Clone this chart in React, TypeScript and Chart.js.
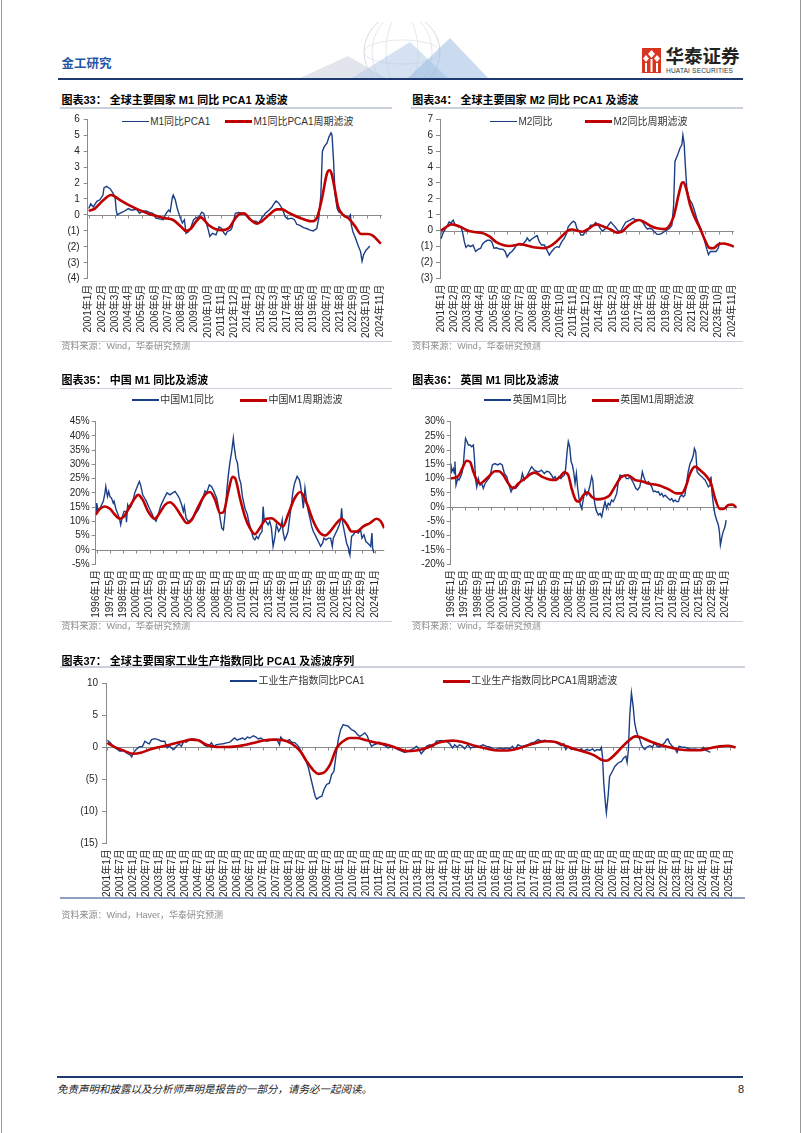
import React, { useEffect, useRef } from 'react';
import { Chart, registerables } from 'chart.js';

Chart.register(...registerables);

// ---------------- tick labels ----------------
const labels13: string[] = ['2001年1月', '2002年2月', '2003年3月', '2004年4月', '2005年5月', '2006年6月', '2007年7月', '2008年8月', '2009年9月', '2010年10月', '2011年11月', '2012年12月', '2014年1月', '2015年2月', '2016年3月', '2017年4月', '2018年5月', '2019年6月', '2020年7月', '2021年8月', '2022年9月', '2023年10月', '2024年11月'];
const labels16: string[] = ['1996年1月', '1997年5月', '1998年9月', '2000年1月', '2001年5月', '2002年9月', '2004年1月', '2005年5月', '2006年9月', '2008年1月', '2009年5月', '2010年9月', '2012年1月', '2013年5月', '2014年9月', '2016年1月', '2017年5月', '2018年9月', '2020年1月', '2021年5月', '2022年9月', '2024年1月'];
const labels6: string[] = ['2001年1月', '2001年7月', '2002年1月', '2002年7月', '2003年1月', '2003年7月', '2004年1月', '2004年7月', '2005年1月', '2005年7月', '2006年1月', '2006年7月', '2007年1月', '2007年7月', '2008年1月', '2008年7月', '2009年1月', '2009年7月', '2010年1月', '2010年7月', '2011年1月', '2011年7月', '2012年1月', '2012年7月', '2013年1月', '2013年7月', '2014年1月', '2014年7月', '2015年1月', '2015年7月', '2016年1月', '2016年7月', '2017年1月', '2017年7月', '2018年1月', '2018年7月', '2019年1月', '2019年7月', '2020年1月', '2020年7月', '2021年1月', '2021年7月', '2022年1月', '2022年7月', '2023年1月', '2023年7月', '2024年1月', '2024年7月', '2025年1月'];

// ---------------- series (x = months since first label, y = value) ----------------
const m1PcaRaw: number[][] = [[0,0.4],[2,0.7],[4.5,0.5],[8,0.85],[11,0.95],[14,1.25],[15,1.7],[17.5,1.8],[21,1.65],[24,1.35],[26,1.05],[27,0.3],[28,0.0],[30.5,0.1],[34,0.2],[39,0.4],[42,0.3],[47,0.35],[50,0.1],[53,0.25],[56.5,0.25],[60,0.15],[63,0.1],[66,-0.2],[69.5,-0.25],[73,-0.3],[76,0.1],[78.5,0.3],[80,0.2],[82,1.05],[83,1.25],[85,0.95],[87,0.4],[90,-0.2],[92,-0.5],[94,-0.3],[95.5,-1.15],[98,-1.05],[100,-0.85],[103,-0.3],[105,-0.2],[108.5,-0.1],[111,0.17],[113,0.1],[115,-0.4],[117.5,-0.95],[119,-1.35],[121.5,-1.15],[125,-1.25],[128,-0.75],[130.5,-0.85],[133,-1.15],[134.5,-1.25],[136,-1.05],[139.5,-0.95],[141,-0.75],[144,0.1],[147.5,0.15],[151,0.1],[154,0.0],[157,-0.2],[160.5,-0.4],[164,-0.4],[167,-0.5],[170,-0.2],[173.5,0.1],[177,0.3],[180,0.5],[182.5,0.75],[184,0.87],[186.5,0.75],[190,0.4],[193,-0.1],[195.5,-0.25],[199.5,-0.2],[202,-0.3],[204.5,-0.6],[207.5,-0.65],[211,-0.8],[214,-0.85],[217.5,-0.95],[220.5,-1.0],[224,-0.85],[226,-0.2],[228,1.25],[229.5,4.0],[231.5,4.3],[234,4.5],[236,4.9],[238,5.15],[239,5.0],[240.5,3.35],[242,1.25],[244,0.4],[245.5,0.2],[248,0.1],[251.5,-0.1],[255,-0.2],[257,0.0],[258,-0.65],[259.5,-1.05],[262,-1.45],[264.5,-1.9],[267,-2.3],[268.5,-2.9],[270,-2.5],[272.5,-2.2],[274,-2.1],[276,-1.95]];
const m1PcaFilt: number[][] = [[0,0.25],[6,0.4],[14,0.9],[22,1.25],[30.5,0.95],[40,0.6],[50,0.3],[60,0.05],[66,-0.05],[74,-0.2],[82.5,-0.3],[91,-0.75],[95.5,-1.0],[100.5,-0.85],[105,-0.45],[110,-0.15],[118,-0.65],[125,-0.9],[131,-0.95],[138,-0.8],[143,-0.3],[148,0.05],[152.5,0.1],[159,-0.3],[165.5,-0.55],[170,-0.4],[177,0],[185,0.35],[190,0.35],[196,0.15],[204,-0.1],[212.5,-0.3],[219,-0.4],[224,-0.2],[229,1.0],[234,2.6],[236.5,2.8],[238.5,2.6],[242,1.5],[245,0.5],[250,0],[255,-0.2],[261.5,-0.7],[267.5,-1.2],[274,-1.2],[279,-1.3],[287,-1.8]];

const m2Raw: number[][] = [[0,-0.5],[2,-0.15],[5.5,0.25],[8,0.55],[10,0.5],[12,0.67],[14,0.35],[17,0.25],[19.5,0.25],[21,-0.05],[23,-0.7],[24.5,-1.05],[26.7,-0.9],[29,-1.0],[31.5,-0.9],[34,-1.3],[36.5,-1.17],[39,-1.1],[40.7,-0.85],[43,-0.7],[45.6,-0.6],[48,-0.6],[50,-0.7],[52,-1.1],[54.5,-1.07],[57.7,-1.15],[61,-1.17],[63,-1.3],[65,-1.65],[67.4,-1.42],[69.7,-1.3],[72.3,-1.1],[74,-0.9],[76,-0.85],[79,-0.9],[81,-0.8],[83.7,-0.6],[84.7,-0.45],[87,-0.65],[89.6,-0.5],[92,-0.4],[94.5,-0.3],[96.7,-0.7],[99,-0.9],[101.6,-0.9],[104,-1.2],[106.5,-1.53],[108.8,-1.3],[111.4,-1.1],[114,-1.0],[116,-1.05],[118.6,-0.7],[121,-0.5],[123.5,-0.17],[125,0.25],[127.7,0.45],[130,0.6],[132,0.5],[133.6,0.15],[136,-0.05],[137.5,-0.27],[139.7,-0.27],[142,-0.07],[144.6,0.05],[147,0.35],[150,0.35],[152,0.52],[154,0.4],[157,0.1],[159,-0.02],[162,0.15],[164,0.3],[166.8,0.55],[169,0.4],[171.6,0.2],[174,0.0],[176.5,-0.05],[179,0.25],[181.4,0.52],[183.7,0.6],[186,0.67],[189,0.78],[191,0.67],[193.5,0.67],[196,0.67],[198.7,0.5],[201,0.25],[203,0.1],[205,0.15],[207.5,0.1],[209.8,-0.06],[212.4,-0.23],[215,-0.23],[217,-0.17],[219.5,-0.06],[222,0.04],[224.8,0.15],[227,0.35],[228.7,1.6],[230,4.35],[232.6,4.75],[235,5.2],[236.8,5.4],[237.8,6.0],[239,5.5],[240.4,3.9],[241.7,2.65],[244,2.0],[247,1.7],[249,1.3],[251.4,0.78],[254,0.35],[256.4,-0.06],[258.6,-0.5],[260.6,-1.0],[263,-1.5],[265,-1.3],[267.7,-1.3],[270.4,-1.3],[272.6,-1.1],[274,-0.7]];
const m2Filt: number[][] = [[0,0],[5.5,0.25],[10,0.4],[15,0.35],[22,0.15],[26.7,0],[33,-0.08],[41,-0.15],[48,-0.37],[54,-0.7],[61,-0.9],[67,-0.96],[74,-0.9],[77,-0.84],[85,-0.94],[93,-1.05],[101.6,-1.1],[106.5,-1.0],[113,-0.7],[119.5,-0.3],[124.5,0],[129,0.08],[134,0],[139,-0.06],[144,0.08],[150.5,0.35],[153.7,0.4],[160,0.25],[166.8,0.08],[173.3,-0.12],[178,-0.06],[183,0.25],[189.6,0.56],[194.5,0.67],[199.4,0.56],[206,0.3],[212.4,0.15],[219,0.1],[223.8,0.25],[228.7,0.88],[233.6,2.25],[236.8,3.0],[238.4,3.05],[241,2.65],[245,1.6],[249.8,0.78],[254.7,0.15],[259.6,-0.6],[263.8,-1.07],[267.7,-1.1],[272.6,-0.86],[277.5,-0.8],[282.4,-0.86],[288,-1.0]];

const cnM1Raw: number[][] = [[-0.8,13.5],[0,16.4],[1.5,14],[4,14.6],[6,15.8],[8,17],[10,20],[11,22.2],[13,18.7],[14.5,20.5],[16,18.7],[18,18.1],[20,16.4],[21,17],[23,14.6],[25,12.9],[27.4,11.1],[29,8.8],[31,11.7],[33,13.5],[35,13.5],[36,9.7],[37.4,15.8],[39.4,14.6],[41.4,15.2],[43.5,17],[46,20],[49,22.2],[51.5,24],[53,22.8],[55.5,19.3],[58,18.1],[60,17],[63.6,14.6],[66.4,12.9],[69,11.1],[71.6,10],[74.4,12.3],[77,15.2],[79.7,17],[82.5,18.7],[85,20],[88.5,19.3],[91.8,20],[94.6,20.5],[97.4,19.3],[99.8,18.1],[102.6,15.8],[104.6,13.5],[105.8,15.2],[108,11.1],[110.7,10],[113.5,10.5],[116.7,11.7],[120,12.9],[122.7,14],[125.5,15.8],[128.8,18.7],[130.8,20.7],[132.8,20],[136,22.8],[138.8,22.2],[141.6,20.5],[144.9,18.1],[146.9,15.2],[149,11.1],[151,7.6],[153,7],[155,12.3],[157,20.5],[159,26.3],[161,31],[163,34.5],[165,39.2],[166,36.3],[168,32.2],[170,30.4],[172,25.2],[174,23.4],[176,18.7],[179,14.6],[182,12.3],[184,9.4],[187,6.4],[189,4.1],[191,3.5],[193,4.7],[195,3.9],[197,5.3],[199.6,6.4],[201,15.2],[202.4,10],[204.4,10],[207,8.8],[209,10],[211,7.6],[213,1.2],[215,4.1],[217,8.8],[219.7,6.4],[222,7.6],[224,10.5],[225,6.4],[227,3.5],[229,4.7],[231,6.4],[233,11.1],[235,15.8],[237,20.5],[239,23.4],[242,25.8],[244.7,24.6],[246,22.8],[248,18.7],[249.5,14.6],[251.5,21.7],[253.5,17],[255.5,13.5],[257.5,11.1],[259.6,8.2],[261.6,6.4],[263.6,5.3],[265.6,4.1],[267.6,2.9],[270.4,1.2],[272.8,2.3],[274.4,4.1],[276.9,3.5],[279.7,4.1],[282.5,4.1],[284.5,1.2],[285.7,4.1],[287.7,5.3],[290.5,7],[293,8.8],[294.6,10.5],[295.8,14.6],[297,9.4],[299.8,5.3],[301.8,2.3],[303.8,0.8],[305.8,-1.8],[307.8,4.7],[309.9,5.3],[312.7,6.4],[315.9,5.9],[318.7,7],[320.3,4.1],[322.7,5.3],[325,2.9],[328,2.1],[330.8,1.2],[332.4,5.9],[333.2,0.6],[334.8,-1.2]];
const cnM1Filt: number[][] = [[-1.2,12.3],[4,14.4],[10,15.2],[16,14.4],[22,12.3],[28,10.9],[33,11.7],[40,15.2],[46,18.1],[50,19.3],[55.5,17.6],[62,13.5],[70,10.9],[76,12.9],[82.5,15.8],[88.5,16.7],[94.6,15.2],[102.6,11.7],[108.7,9.4],[114.7,10.5],[122.7,15.2],[130.8,19.3],[136.8,20.3],[142.9,17.6],[149,12.9],[153,13.2],[159,20.5],[164,25.6],[167,25.2],[173,18.1],[179,11.7],[185,7.6],[191,5.5],[197,7.6],[205,10.9],[211,11.1],[219,9.4],[225,8.2],[231,12.3],[239,18.1],[246,20.3],[253.5,16.4],[261.6,10],[269.6,5.9],[275.6,5],[281.7,6.4],[289.7,9.4],[295.8,10.9],[301.8,9],[307.8,6.4],[313.9,6.4],[322,8.2],[330,9.4],[338,10.9],[343,10],[347.3,7.6]];

const ukM1Raw: number[][] = [[-1,15.3],[0,12.4],[2,13.6],[3.3,11.8],[4,16],[5.3,7.7],[7.4,10],[9,9.5],[11,10.7],[13,12.4],[14.3,14.8],[15.5,19.4],[17,24.1],[18.8,23],[20.4,21.8],[22.5,21.8],[24.5,21.2],[26.6,21.8],[27.8,17.7],[29.4,9.5],[30.7,7.1],[32.7,10],[34.8,7.7],[36.8,8.3],[38.8,6.6],[40.9,8.3],[44,9.5],[47,10.7],[49.9,14.8],[53,15.3],[56.4,14.8],[59.3,15.3],[62,14.8],[64.6,11.8],[67.5,10.7],[70.3,7.7],[72.8,5.4],[75.6,7.1],[78.5,6.6],[81.8,7.7],[85,9.5],[86.7,11.8],[89,9.5],[92,10.7],[94.8,12.4],[98,14.2],[101.4,13],[104,12.6],[107,12.4],[110,13],[113.6,11.8],[116.5,12.6],[119.4,12.4],[122.6,11.2],[124.7,10],[126.7,10.7],[128.8,9.5],[131.6,10.7],[134,10],[135.7,10.7],[138.2,11.2],[139.8,13.6],[141.5,19.4],[143,23],[144.7,21.2],[146.4,16],[148,14.8],[149.6,12.4],[151.3,8.3],[152.9,11.8],[154.5,6.6],[156.2,3],[157.8,0.7],[159.4,-0.5],[161.5,3],[163.5,6],[165.6,4.2],[167.6,5.4],[169.7,7.7],[171.7,10.7],[173,9.5],[174.6,3],[175.8,0.7],[177.8,-1.6],[179.9,-2.8],[182,-2.2],[184,-3.4],[186,-0.5],[188,1.9],[190,-0.5],[192,1.3],[194,0.7],[196,2.5],[198,1.9],[200,3],[202.4,4.8],[204.4,8.9],[206.5,11.2],[209.3,10.7],[211.8,11.2],[214.2,10],[216.7,10],[218.7,10.7],[220.8,9.5],[223.2,8.3],[225.7,6.6],[228,6],[230.6,7.1],[232.2,9.5],[233.8,12.4],[235.5,10.7],[237,9.5],[239,8.3],[241.2,8.9],[243,8.3],[245.3,7.1],[247.3,5.4],[249.4,5.6],[251.4,5.2],[253.5,5.4],[255.5,4.2],[257.6,4.8],[259.6,3.6],[261.6,4.2],[263.7,3.6],[265.7,3],[267.8,2.5],[269.8,3],[271.9,1.9],[273.9,2.5],[276,1.9],[278,1.9],[280,3.6],[282,4.2],[284,3.6],[286,4.2],[288,8.3],[290,12.4],[292.3,15.3],[294.4,16.5],[296.4,18.3],[297.6,20.6],[299.3,19.4],[301,12.4],[302.5,11.8],[304.6,11.2],[306.6,10.7],[308.7,10],[310.7,9.5],[312.8,8.3],[314.8,7.1],[316.9,7.7],[318,10.7],[319.3,4.8],[321,0.7],[323,-2.8],[325,-4.6],[327,-6.3],[328.3,-8.7],[329.5,-13.3],[331,-11],[332.8,-8.7],[334.4,-7.5],[335.6,-6.3],[336.5,-4.6]];
const ukM1Filt: number[][] = [[-1.2,10.1],[4,10.3],[9,11.2],[13,13.6],[18.4,16.3],[22.5,15.9],[26.6,12.4],[30.7,9.5],[34.8,8.3],[40.9,9.5],[47,11.2],[53,12.6],[58,12.6],[63.4,11.2],[69.5,8.3],[75.6,6.6],[81.8,8.3],[90,10.1],[98,11.8],[102,12.1],[110.4,10.7],[118.6,9.8],[126.7,9.5],[133,10.7],[138,12.2],[143,11.2],[147,6.6],[152,2.5],[156,1.9],[161.5,4.2],[166.8,5.2],[171.7,3.6],[177.8,2.7],[186,3.0],[194,4.2],[200,7.1],[208.5,10.7],[216,11.2],[225,9.5],[233,9.1],[241,8.3],[253.5,7.7],[265.7,6.3],[276,4.8],[282,4.8],[287,7.1],[292.3,11.8],[298.4,14.2],[304.6,13.0],[312.8,10.7],[318,8.3],[323,3.0],[329,-0.7],[333,-0.7],[339,0.7],[344,0.9],[349.5,-0.2]];

const ipPcaRaw: number[][] = [[0,1.1],[1.2,0.8],[2.8,0.15],[4.3,-0.25],[5.9,-0.6],[7.4,-0.5],[9,-0.9],[10.5,-1.15],[11.3,-1.5],[12,-0.9],[13.3,-0.35],[14.8,0.05],[16.3,0.15],[17.4,0.95],[18.5,0.7],[19.4,0.55],[20.5,1.2],[22,1.35],[23.5,1.2],[25,0.95],[26.6,0.95],[27.7,-0.1],[28.6,0.25],[29.7,-0.1],[30.8,-0.35],[32,0.15],[33.2,0.5],[34.3,0.15],[35.4,0.95],[36.6,0.8],[37.9,1.2],[39,1.3],[40,1.3],[41.3,1.2],[42.5,1.1],[43.6,0.95],[44.7,0.4],[45.9,0.15],[47.2,0.25],[48.2,0.7],[49.3,0.15],[50.6,0.4],[52,0.5],[53.6,0.55],[55.2,0.7],[56.7,0.8],[58,1.2],[59,1.45],[60.1,1.1],[61.4,1.3],[62.6,1.45],[63.7,1.2],[64.8,1.6],[66,1.45],[67.6,1.8],[68.8,1.6],[69.9,1.3],[71,1.45],[72.2,1.2],[73.8,0.95],[75.3,1.1],[76.9,1.2],[78.4,1.3],[79.7,0.4],[80.3,1.6],[81.5,1.1],[83.1,0.95],[84.3,1.2],[85.4,0.8],[86.9,0.7],[88.5,0.15],[89.6,-0.6],[90.8,-1.4],[92,-2.2],[93.1,-3.2],[94.2,-4.8],[95.1,-6.1],[96.2,-7.65],[96.9,-8.1],[98.2,-7.8],[99.3,-7.65],[100.3,-6.6],[101.5,-5.8],[102.8,-5.6],[103.8,-4.3],[104.9,-3.75],[105.8,-1.4],[106.9,1.2],[108,2.75],[109.2,3.55],[110.5,3.4],[111.5,3.3],[113.1,2.75],[114.6,2.5],[115.7,2.0],[116.9,1.7],[118.2,2.0],[119.2,2.25],[120.3,1.8],[121.2,0.95],[122.3,0.15],[123.4,0.4],[124.6,0.55],[125.8,0.8],[126.9,0.55],[128.5,0.25],[130,-0.1],[131.6,0.15],[133.1,-0.1],[134.6,-0.35],[136.2,-0.6],[137.7,-0.8],[139.2,-0.6],[140.8,-0.35],[142.3,-0.1],[143,0.15],[143.8,-0.1],[145.3,-1.0],[146.9,-0.35],[147.7,0.15],[149.3,0.4],[150.9,0.15],[152.3,0.95],[153.9,1.05],[155.5,1.05],[157,0.95],[158.5,0.55],[159.8,-0.1],[160.8,0.4],[161.9,0.05],[163.1,0.4],[164.4,0.15],[165.4,-0.25],[166.2,0.15],[167,0.4],[168,-0.1],[169.3,0],[170.8,0.05],[172.4,0.15],[173.9,0.4],[175.5,0.15],[177,0.05],[178.6,-0.25],[180.1,-0.35],[181.6,-0.1],[183.2,-0.25],[184.7,-0.1],[186.3,-0.25],[187.5,0.15],[188.6,-0.35],[190.1,0.4],[191.6,0.15],[193.2,0.25],[194.7,0.4],[196.3,0.7],[197.8,0.8],[199.4,1.2],[200.9,0.95],[202.5,1.1],[204,0.95],[205.6,0.95],[207.1,0.8],[208.7,0.55],[210.2,0.25],[211.3,0.55],[212.2,-0.35],[213.3,0.15],[214.8,-0.35],[216.4,-0.2],[217.9,-0.45],[219.5,-0.25],[220.5,-0.6],[221.8,-0.35],[223.3,-0.5],[224.6,-0.25],[225.6,-0.6],[226.7,-0.35],[228,-0.45],[228.7,0],[229.2,-1.4],[229.8,-5.6],[230.4,-8.2],[231,-10.25],[231.8,-7.65],[232.5,-4.55],[233.8,-3.75],[234.9,-3.0],[236.4,-2.45],[238,-2.2],[239,-1.65],[240,-1.4],[240.6,-2.35],[241.2,-0.35],[241.8,4.85],[242.6,8.5],[243.4,6.4],[244.1,3.8],[244.9,2.5],[245.7,1.7],[246.5,1.2],[247.2,0.4],[248,-0.1],[248.8,-0.35],[249.8,0.05],[251.1,0.25],[252.3,0.05],[253.4,0.7],[254.5,0.15],[255.7,0.05],[256.9,0.4],[258,0.7],[258.8,1.2],[259.5,1.3],[260.3,0.7],[261.5,0.15],[262.6,-0.1],[263.7,-0.8],[264.6,0.15],[265.7,0.05],[267.2,0],[268.8,-0.15],[270.3,-0.35],[271.8,-0.25],[273.4,-0.35],[274.9,-0.35],[276,0],[276.9,-0.5],[278,-0.6],[279.1,-0.8]];
const ipPcaFilt: number[][] = [[0,0.7],[4.3,-0.1],[8.2,-0.6],[12,-1.0],[15.9,-0.8],[19.7,-0.35],[24.3,0.05],[28.9,0.4],[34.3,0.85],[39,1.2],[42,1.1],[45.9,0.4],[50.6,0.05],[55.2,0.05],[59.8,0.15],[66,0.55],[72.2,1.05],[76.9,1.2],[81.5,1.1],[85.4,0.55],[89.3,-0.6],[92.3,-2.2],[95.4,-3.6],[97.7,-4.15],[100,-4.0],[103.1,-2.7],[106.2,-0.1],[109.2,0.95],[112.3,1.45],[115.4,1.45],[120,1.1],[124.6,0.7],[129.3,0.4],[133.9,-0.1],[138.5,-0.6],[143,-0.5],[147.7,-0.1],[153.9,0.8],[160,1.05],[164.7,0.8],[170,0.25],[175.5,-0.2],[180.9,-0.5],[186.3,-0.45],[190.9,-0.1],[197.1,0.55],[202.5,0.95],[207.9,0.8],[212.5,0.15],[217.1,-0.35],[221.8,-0.8],[225.6,-1.3],[228.7,-1.95],[231,-2.1],[233.3,-1.65],[237.2,-0.35],[241,0.95],[244.6,1.7],[246.5,1.6],[251.1,0.95],[255.7,0.4],[260.3,0],[264.9,-0.35],[269.6,-0.45],[274.2,-0.45],[278.8,-0.15],[283.5,0.15],[287.3,0.25],[290.8,0]];

// ---------------- styling ----------------
const BLUE = '#1b3f87';
const RED = '#c00000';
const AXIS = '#8a8a8a';
const TICK = '#262626';
const FONT = '"Liberation Sans", "Noto Sans CJK SC", sans-serif';
const NAVY = '#1f3a70';

const paren = (v: number) => (v < 0 ? `(${-v})` : `${v}`);
const pct = (v: number) => `${v}%`;

interface Spec {
  plot: [number, number, number, number];
  xMin: number; xMax: number;
  yMin: number; yMax: number; yStep: number; yPad: number;
  labels: string[]; labelStep: number;
  raw: number[][]; filt: number[][];
  fmt: (v: number) => string;
}

const zeroPlugin = {
  id: 'zeroAxis',
  beforeDatasetsDraw(chart: any) {
    const { ctx, chartArea, scales } = chart;
    const y = Math.round(scales.y.getPixelForValue(0)) + 0.5;
    ctx.save();
    ctx.strokeStyle = AXIS;
    ctx.lineWidth = 1;
    ctx.beginPath();
    ctx.moveTo(chartArea.left, y);
    ctx.lineTo(chartArea.right, y);
    for (const t of scales.x.ticks) {
      const x = Math.round(scales.x.getPixelForValue(t.value)) + 0.5;
      ctx.moveTo(x, y);
      ctx.lineTo(x, y + 3);
    }
    ctx.stroke();
    ctx.restore();
  },
};

function LineChart({ s }: { s: Spec }) {
  const ref = useRef<HTMLCanvasElement>(null);
  const [l, t, r, b] = s.plot;
  const cl = Math.floor(l) - 50;
  const ct = Math.floor(t) - 12;
  const cw = Math.ceil(r) + 14 - cl;
  const ch = Math.ceil(b) + 64 - ct;
  const yW = l - cl;
  const padTop = t - ct;
  const padRight = cl + cw - r;
  const xH = ct + ch - b;

  useEffect(() => {
    const tickVals = s.labels.map((_, i) => i * s.labelStep);
    const chart = new Chart(ref.current as HTMLCanvasElement, {
      type: 'line',
      data: {
        datasets: [
          { data: s.filt.map(([x, y]) => ({ x, y })), borderColor: RED, borderWidth: 2.6, pointRadius: 0, cubicInterpolationMode: 'monotone', fill: false } as any,
          { data: s.raw.map(([x, y]) => ({ x, y })), borderColor: BLUE, borderWidth: 1.4, pointRadius: 0, tension: 0, fill: false } as any,
        ],
      },
      options: {
        responsive: false,
        animation: false,
        devicePixelRatio: 1,
        events: [],
        layout: { padding: { left: 0, top: padTop, right: padRight, bottom: 0 } },
        plugins: { legend: { display: false }, tooltip: { enabled: false } },
        scales: {
          x: {
            type: 'linear', min: s.xMin, max: s.xMax,
            afterBuildTicks: (sc: any) => { sc.ticks = tickVals.map((v) => ({ value: v })); },
            afterFit: (sc: any) => { sc.height = xH; },
            ticks: {
              autoSkip: false, minRotation: 90, maxRotation: 90, padding: 6, color: TICK,
              font: { family: FONT, size: 10 },
              callback: (v: any) => { const i = tickVals.indexOf(Number(v)); return i >= 0 ? s.labels[i] : ''; },
            },
            grid: { display: false, drawTicks: false },
            border: { display: false },
          },
          y: {
            min: s.yMin, max: s.yMax,
            afterFit: (sc: any) => { sc.width = yW; },
            ticks: { autoSkip: false, stepSize: s.yStep, padding: s.yPad, color: TICK, font: { family: FONT, size: 10 }, callback: (v: any) => s.fmt(Number(v)) },
            grid: { drawOnChartArea: false, drawTicks: true, tickLength: 4, color: AXIS },
            border: { display: true, color: AXIS },
          },
        },
      } as any,
      plugins: [zeroPlugin],
    });
    return () => chart.destroy();
  }, []);

  return <canvas ref={ref} width={cw} height={ch} style={{ position: 'absolute', left: cl, top: ct, width: cw, height: ch }} />;
}

function Txt({ x, y, size, children, color = '#000', weight = 400, italic = false, spacing = 0 }: any) {
  const h = Math.round(size * 1.4);
  return (
    <div style={{ position: 'absolute', left: x, top: y - h / 2, height: h, lineHeight: `${h}px`, fontSize: size, color, fontWeight: weight, fontStyle: italic ? 'italic' : 'normal', whiteSpace: 'nowrap', fontFamily: FONT, letterSpacing: spacing }}>
      {children}
    </div>
  );
}

function HLine({ x1, x2, y, w = 1, color }: any) {
  return <div style={{ position: 'absolute', left: x1, top: y - w / 2, width: x2 - x1, height: w, background: color }} />;
}

function Legend({ x, y, text, color, thick }: any) {
  return (
    <>
      <div style={{ position: 'absolute', left: x, top: y - thick / 2, width: 27, height: thick, background: color }} />
      <Txt x={x + 28.5} y={y} size={10} color="#333">{text}</Txt>
    </>
  );
}

const spec33: Spec = { plot: [87.7, 119.3, 384, 278.7], xMin: -1, xMax: 288, yMin: -4, yMax: 6, yStep: 1, yPad: 4, labels: labels13, labelStep: 13, raw: m1PcaRaw, filt: m1PcaFilt, fmt: paren };
const spec34: Spec = { plot: [440, 119.3, 736, 278.5], xMin: -1, xMax: 288, yMin: -3, yMax: 7, yStep: 1, yPad: 3, labels: labels13, labelStep: 13, raw: m2Raw, filt: m2Filt, fmt: paren };
const spec35: Spec = { plot: [95.7, 421.7, 384.3, 564], xMin: -1.2, xMax: 347.3, yMin: -5, yMax: 45, yStep: 5, yPad: 2, labels: labels16, labelStep: 16, raw: cnM1Raw, filt: cnM1Filt, fmt: pct };
const spec36: Spec = { plot: [450.7, 421.7, 736.7, 564], xMin: -1.2, xMax: 349.5, yMin: -20, yMax: 30, yStep: 5, yPad: 2, labels: labels16, labelStep: 16, raw: ukM1Raw, filt: ukM1Filt, fmt: pct };
const spec37: Spec = { plot: [106, 683.3, 736, 843.3], xMin: -0.6, xMax: 291, yMin: -15, yMax: 10, yStep: 5, yPad: 4, labels: labels6, labelStep: 6, raw: ipPcaRaw, filt: ipPcaFilt, fmt: paren };

const TITLE_LINE = '#cbd1da';
const SRC = '#8c8c8c';

export default function App() {
  return (
    <div style={{ position: 'absolute', left: 0, top: 0, width: 802, height: 1133, background: '#fff', overflow: 'hidden', fontFamily: FONT }}>
      <div style={{ position: 'absolute', left: 1, top: 0, width: 1, height: 1133, background: '#9a9a9a' }} />
      <div style={{ position: 'absolute', left: 800, top: 0, width: 1, height: 1133, background: '#9a9a9a' }} />

      {/* header decoration */}
      <svg width={200} height={56} style={{ position: 'absolute', left: 290, top: 22 }}>
        <circle cx={112} cy={30} r={38} fill="none" stroke="#d7dce3" strokeWidth={1} />
        <ellipse cx={112} cy={30} rx={16} ry={38} fill="none" stroke="#dde1e7" strokeWidth={0.8} />
        <ellipse cx={112} cy={30} rx={30} ry={38} fill="none" stroke="#dde1e7" strokeWidth={0.8} />
        <ellipse cx={112} cy={30} rx={38} ry={12} fill="none" stroke="#dde1e7" strokeWidth={0.8} />
        <polygon points="10,56 58,34 96,56" fill="#cfd6df" opacity={0.6} />
        <polygon points="62,56 120,20 158,56" fill="#b5cbe6" opacity={0.55} />
        <polygon points="118,56 160,16 198,56" fill="#95b7df" opacity={0.5} />
      </svg>

      <Txt x={61.5} y={64.3} size={12.5} weight={700} color="#2456a8">金工研究</Txt>
      <svg width={19} height={25} style={{ position: 'absolute', left: 641.5, top: 48 }}>
        <rect x={0} y={0} width={19} height={25} fill="#d9341f" />
        <polygon points="9.5,2 13,6 9.5,10 6,6" fill="#fff" />
        <polygon points="4,7 7,10.5 4,14 1,10.5" fill="#fff" />
        <polygon points="15,7 18,10.5 15,14 12,10.5" fill="#fff" />
        <rect x={3} y={15} width={2} height={9} fill="#fff" />
        <rect x={8.5} y={11} width={2} height={13} fill="#fff" />
        <rect x={14} y={15} width={2} height={9} fill="#fff" />
      </svg>
      <Txt x={665.5} y={56.5} size={18.5} weight={700} color="#222">华泰证券</Txt>
      <Txt x={666} y={70.3} size={6.6} color="#333" spacing={0.15}>HUATAI SECURITIES</Txt>
      <HLine x1={58} x2={743} y={79.2} w={2.5} color={NAVY} />

      {/* chart 33 */}
      <Txt x={61.5} y={100.7} size={11} weight={700}>图表33：&nbsp;全球主要国家 M1 同比 PCA1 及滤波</Txt>
      <HLine x1={60} x2={392} y={107.8} w={1.5} color={TITLE_LINE} />
      <Legend x={121.7} y={121.7} text="M1同比PCA1" color={BLUE} thick={1.6} />
      <Legend x={225} y={121.7} text="M1同比PCA1周期滤波" color={RED} thick={3} />
      <LineChart s={spec33} />
      <HLine x1={60} x2={392} y={341} w={1} color={TITLE_LINE} />
      <Txt x={61.5} y={346.7} size={9} color={SRC}>资料来源：Wind，华泰研究预测</Txt>

      {/* chart 34 */}
      <Txt x={412.3} y={100.7} size={11} weight={700}>图表34：&nbsp;全球主要国家 M2 同比 PCA1 及滤波</Txt>
      <HLine x1={411} x2={743} y={107.8} w={1.5} color={TITLE_LINE} />
      <Legend x={490} y={121.7} text="M2同比" color={BLUE} thick={1.6} />
      <Legend x={585} y={121.7} text="M2同比周期滤波" color={RED} thick={3} />
      <LineChart s={spec34} />
      <HLine x1={411} x2={743} y={341} w={1} color={TITLE_LINE} />
      <Txt x={412.3} y={346.7} size={9} color={SRC}>资料来源：Wind，华泰研究预测</Txt>

      {/* chart 35 */}
      <Txt x={61.5} y={380.7} size={11} weight={700}>图表35：&nbsp;中国 M1 同比及滤波</Txt>
      <HLine x1={60} x2={392} y={388.3} w={1.5} color={TITLE_LINE} />
      <Legend x={131.7} y={400} text="中国M1同比" color={BLUE} thick={1.6} />
      <Legend x={240} y={400} text="中国M1周期滤波" color={RED} thick={3} />
      <LineChart s={spec35} />
      <HLine x1={60} x2={392} y={621.7} w={1} color={TITLE_LINE} />
      <Txt x={61.5} y={626.7} size={9} color={SRC}>资料来源：Wind，华泰研究预测</Txt>

      {/* chart 36 */}
      <Txt x={412.3} y={380.7} size={11} weight={700}>图表36：&nbsp;英国 M1 同比及滤波</Txt>
      <HLine x1={411} x2={743} y={388.3} w={1.5} color={TITLE_LINE} />
      <Legend x={484.3} y={400} text="英国M1同比" color={BLUE} thick={1.6} />
      <Legend x={591.7} y={400} text="英国M1周期滤波" color={RED} thick={3} />
      <LineChart s={spec36} />
      <HLine x1={411} x2={743} y={621.7} w={1} color={TITLE_LINE} />
      <Txt x={412.3} y={626.7} size={9} color={SRC}>资料来源：Wind，华泰研究预测</Txt>

      {/* chart 37 */}
      <Txt x={61.5} y={661} size={11} weight={700}>图表37：&nbsp;全球主要国家工业生产指数同比 PCA1 及滤波序列</Txt>
      <HLine x1={60} x2={745} y={666.8} w={1.5} color={TITLE_LINE} />
      <Legend x={230} y={681} text="工业生产指数同比PCA1" color={BLUE} thick={1.6} />
      <Legend x={442.7} y={681} text="工业生产指数同比PCA1周期滤波" color={RED} thick={3} />
      <LineChart s={spec37} />
      <HLine x1={60} x2={745} y={898} w={1.2} color="#8ea0bb" />
      <Txt x={61.5} y={915.7} size={9} color={SRC}>资料来源：Wind，Haver，华泰研究预测</Txt>

      {/* footer */}
      <HLine x1={57} x2={743} y={1077.3} w={2} color={NAVY} />
      <Txt x={57} y={1089} size={10.5} italic color="#222">免责声明和披露以及分析师声明是报告的一部分，请务必一起阅读。</Txt>
      <Txt x={738} y={1089} size={11} color="#222">8</Txt>
    </div>
  );
}
